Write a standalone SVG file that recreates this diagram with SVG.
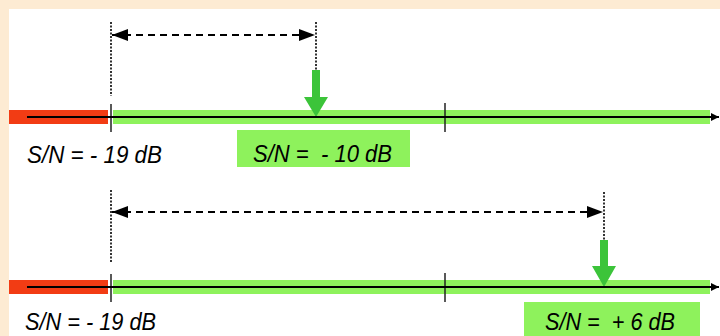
<svg xmlns="http://www.w3.org/2000/svg" width="720" height="336" viewBox="0 0 720 336">
<defs>
<style>
.axis{stroke:#000;stroke-width:2;fill:none}
.tick{stroke:#222;stroke-width:1.5}
.dot{stroke:#333;stroke-width:2;stroke-dasharray:2 1.5}
.dash{stroke:#000;stroke-width:2;stroke-dasharray:7 5;fill:none}
.lbl{font-family:"Liberation Sans",Arial,sans-serif;font-style:italic;font-size:24px;fill:#000}
.red{fill:#f23c14}
.gbar{fill:#8ef25c}
.gbox{fill:#8ef25c}
.garrow{fill:#3cc43a}
</style>
<marker id="ah" viewBox="0 0 16 12" refX="16" refY="6" markerWidth="16" markerHeight="12" markerUnits="userSpaceOnUse" orient="auto-start-reverse">
<path d="M0,0 L16,6 L0,12 Z" fill="#000"/>
</marker>
<marker id="axh" viewBox="0 0 10 10" refX="10" refY="5" markerWidth="8" markerHeight="10" markerUnits="userSpaceOnUse" orient="auto">
<path d="M0,0 L10,5 L0,10 Z" fill="#000"/>
</marker>
</defs>
<rect x="0" y="0" width="720" height="336" fill="#fdebd3"/>
<rect x="9" y="9" width="711" height="327" fill="#ffffff"/>

<g id="row1">
<rect class="red" x="9" y="110" width="99" height="14"/>
<rect class="gbar" x="113" y="110" width="597" height="14"/>
<line class="tick" x1="111" y1="104" x2="111" y2="132"/>
<line class="tick" x1="445" y1="103" x2="445" y2="132"/>
<line class="dot" x1="111" y1="22" x2="111" y2="96"/>
<line class="dot" x1="316" y1="22" x2="316" y2="70"/>
<path class="garrow" d="M312,70 H320 V97 H328 L316,117 L304,97 H312 Z"/>
</g>
<g id="label1a"><text class="lbl" x="27" y="163" textLength="135" lengthAdjust="spacingAndGlyphs">S/N = - 19 dB</text></g>
<g id="label1b">
<rect class="gbox" x="237" y="130" width="173" height="37"/>
<text class="lbl" x="253" y="162" textLength="139" lengthAdjust="spacingAndGlyphs" xml:space="preserve">S/N =  - 10 dB</text>
</g>

<g id="row2">
<rect class="red" x="9" y="280" width="99" height="14"/>
<rect class="gbar" x="113" y="280" width="597" height="14"/>
<line class="tick" x1="111" y1="274" x2="111" y2="302"/>
<line class="tick" x1="445" y1="273" x2="445" y2="302"/>
<line class="dot" x1="111" y1="190" x2="111" y2="262"/>
<line class="dot" x1="604" y1="192" x2="604" y2="240"/>
<path class="garrow" d="M600,240 H608 V266 H616 L604,287 L592,266 H600 Z"/>
</g>
<g id="label2a"><text class="lbl" x="25" y="330" textLength="131" lengthAdjust="spacingAndGlyphs">S/N = - 19 dB</text></g>
<g id="label2b">
<rect class="gbox" x="524" y="302" width="176" height="34"/>
<text class="lbl" x="545" y="330" textLength="130" lengthAdjust="spacingAndGlyphs" xml:space="preserve">S/N =  + 6 dB</text>
</g>

<g id="connectors">
<line class="axis" x1="27" y1="117" x2="719" y2="117" marker-end="url(#axh)"/>
<line class="axis" x1="27" y1="287" x2="719" y2="287" marker-end="url(#axh)"/>
<line class="dash" x1="112" y1="35" x2="315" y2="35" marker-start="url(#ah)" marker-end="url(#ah)"/>
<line class="dash" x1="112" y1="212" x2="603" y2="212" marker-start="url(#ah)" marker-end="url(#ah)"/>
</g>
</svg>
